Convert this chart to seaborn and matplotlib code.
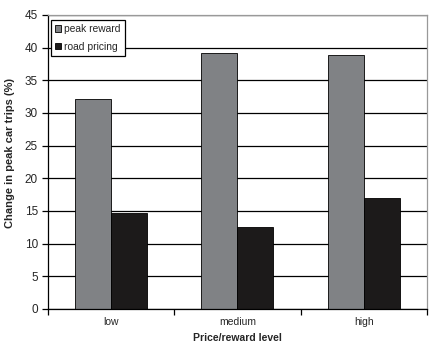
import matplotlib
matplotlib.use("Agg")
import matplotlib.pyplot as plt
import seaborn as sns
import pandas as pd
from matplotlib.ticker import FixedLocator

levels = ["low", "medium", "high"]
peak_reward = [32.1, 39.1, 38.9]
road_pricing = [14.7, 12.6, 17.0]
series_names = ["peak reward", "road pricing"]

df = pd.DataFrame({
    "level": levels * 2,
    "value": peak_reward + road_pricing,
    "scheme": [series_names[0]] * 3 + [series_names[1]] * 3,
})

sns.set_style("white")
plt.rcParams["font.family"] = ["Liberation Sans", "DejaVu Sans"]

fig = plt.figure(figsize=(4.39, 3.46), dpi=100)
ax = fig.add_axes([0.1087, 0.107, 0.864, 0.850])

sns.barplot(data=df, x="level", y="value", hue="scheme", order=levels,
            hue_order=series_names, palette=["#808285", "#1c1a1a"],
            width=0.57, edgecolor="black", linewidth=0.6, ax=ax,
            saturation=1)

ax.set_ylim(0, 45)
ax.set_xlim(-0.5, 2.5)
ax.set_yticks(range(0, 46, 5))
ax.yaxis.grid(True, color="black", linewidth=0.9)
ax.set_axisbelow(True)

for side in ["top", "right"]:
    ax.spines[side].set_color("#999999")
    ax.spines[side].set_linewidth(0.9)
for side in ["left", "bottom"]:
    ax.spines[side].set_color("black")
    ax.spines[side].set_linewidth(0.9)

ax.tick_params(axis="y", which="major", direction="out", length=4,
               width=0.9, color="black", labelsize=8.5, pad=3, left=True)
ax.tick_params(axis="x", which="major", length=0, labelsize=7.5, pad=6)
ax.xaxis.set_minor_locator(FixedLocator([-0.5, 0.5, 1.5, 2.5]))
ax.tick_params(axis="x", which="minor", direction="out", length=4,
               width=0.9, color="black", bottom=True)

ax.set_xlabel("Price/reward level", fontsize=7.5, fontweight="bold",
              labelpad=4)
ax.set_ylabel("Change in peak car trips (%)", fontsize=8, fontweight="bold",
              labelpad=5)
ax.yaxis.set_label_coords(-0.085, 0.53)

leg = ax.legend(loc="upper left", bbox_to_anchor=(0.003, 0.99),
                fontsize=7.4, frameon=True, fancybox=False, handlelength=0.6,
                handleheight=0.6, handletextpad=0.3, borderpad=0.4,
                labelspacing=0.75, borderaxespad=0.2)
leg.get_frame().set_edgecolor("black")
leg.get_frame().set_linewidth(0.9)
leg.get_frame().set_alpha(1)

fig.savefig("out.png", dpi=100)
